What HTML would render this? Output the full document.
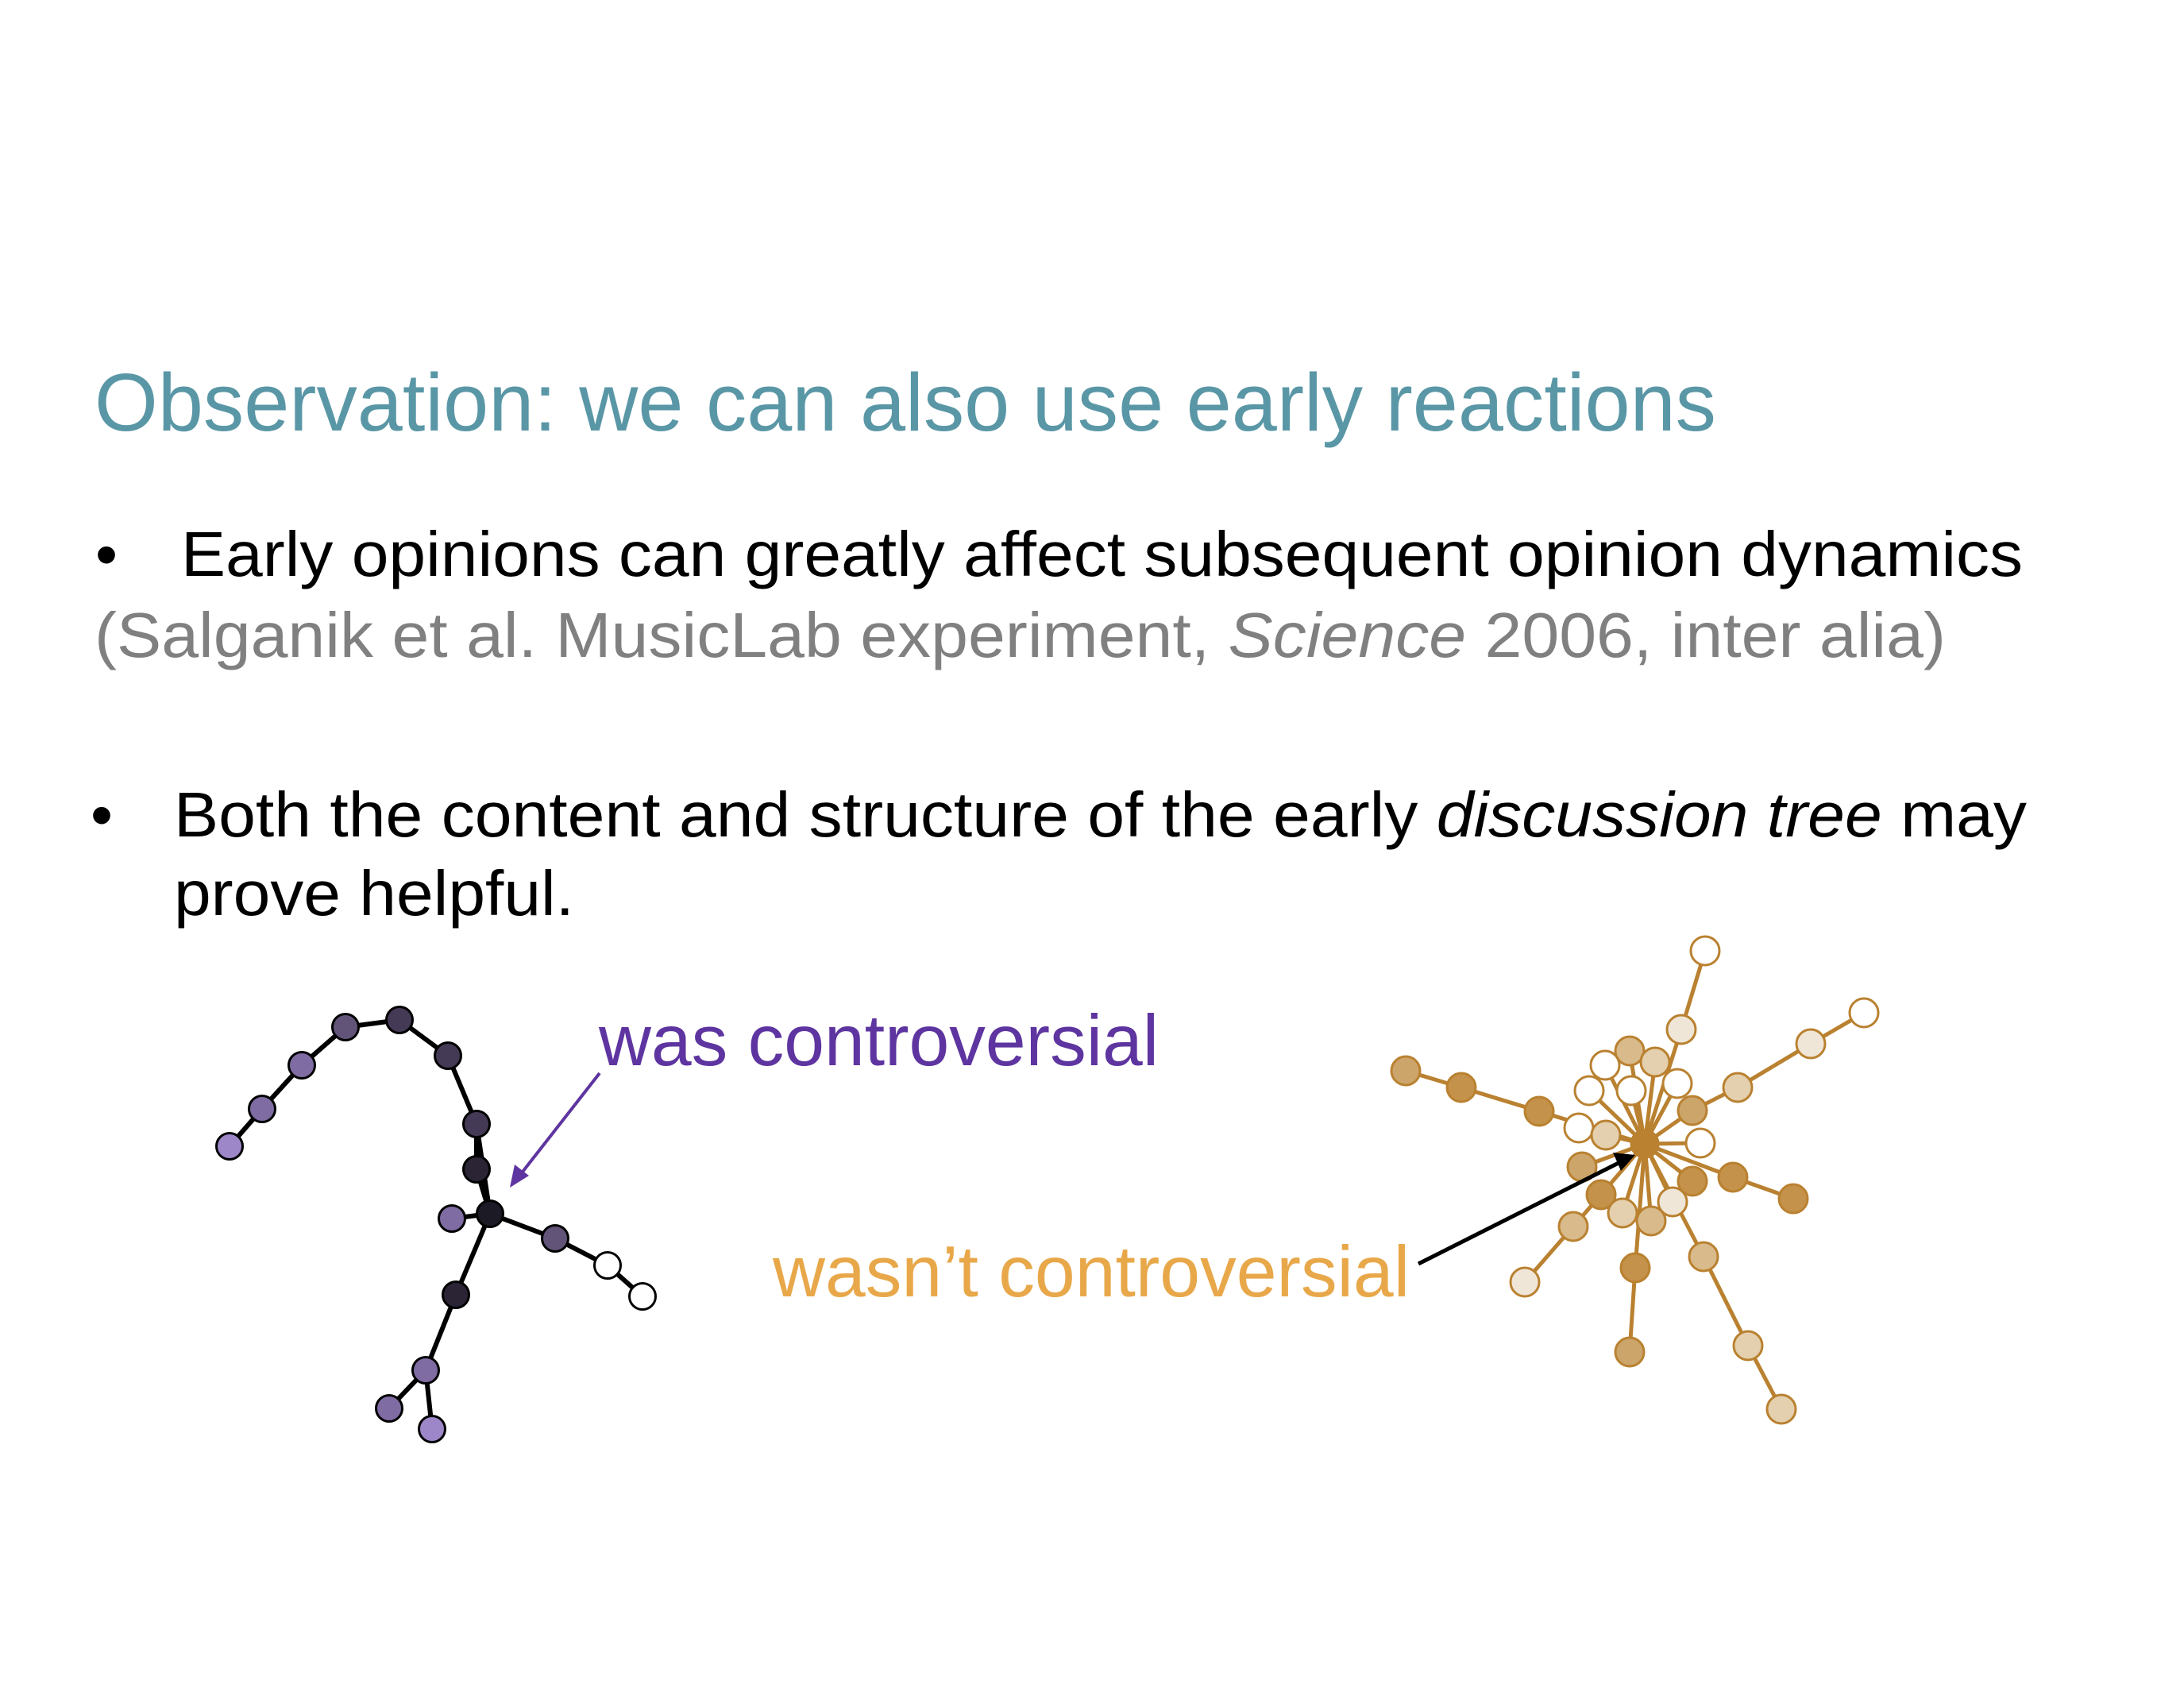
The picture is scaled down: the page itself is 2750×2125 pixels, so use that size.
<!DOCTYPE html>
<html><head><meta charset="utf-8"><style>html,body{margin:0;padding:0;background:#fff}svg{display:block}</style></head>
<body>
<svg width="2750" height="2125" viewBox="0 0 2750 2125" xmlns="http://www.w3.org/2000/svg" font-family="Liberation Sans, Arial, sans-serif">
<rect width="2750" height="2125" fill="#fff"/>
<text x="119" y="542" font-size="103" fill="#5a97a6" textLength="2042" lengthAdjust="spacingAndGlyphs">Observation: we can also use early reactions</text>
<text x="120" y="725" font-size="80" fill="#000">•</text>
<text x="228" y="725" font-size="80" fill="#000" textLength="2319" lengthAdjust="spacingAndGlyphs">Early opinions can greatly affect subsequent opinion dynamics</text>
<text x="119" y="827" font-size="80" fill="#808080" textLength="2331" lengthAdjust="spacingAndGlyphs">(Salganik et al. MusicLab experiment, <tspan font-style="italic">Science</tspan> 2006, inter alia)</text>
<text x="114" y="1053" font-size="80" fill="#000">•</text>
<text x="219" y="1053" font-size="80" fill="#000" textLength="2333" lengthAdjust="spacingAndGlyphs">Both the content and structure of the early <tspan font-style="italic">discussion tree</tspan> may</text>
<text x="219" y="1152" font-size="80" fill="#000" textLength="504" lengthAdjust="spacingAndGlyphs">prove helpful.</text>

<text x="754" y="1341" font-size="91" fill="#5e35a0" textLength="705" lengthAdjust="spacingAndGlyphs">was controversial</text>
<text x="973" y="1632" font-size="91" fill="#e8a84a" textLength="802" lengthAdjust="spacingAndGlyphs">wasn’t controversial</text>

<!-- left tree -->
<g stroke="#000" stroke-width="6" fill="none" stroke-linecap="round">
<polyline points="289,1443 330,1396 380,1341 435,1293 503,1284 564,1329 600,1415 600,1472 617,1528"/>
<polyline points="600,1415 617,1528"/>
<polyline points="569,1534 617,1528 699,1559 765,1593 809,1632"/>
<polyline points="617,1528 574,1630 536,1725 490,1773"/>
<polyline points="536,1725 544,1799"/>
</g>
<g stroke="#000" stroke-width="3">
<circle cx="289" cy="1443" r="16.5" fill="#9d87c9"/>
<circle cx="330" cy="1396" r="16.5" fill="#7f6ca3"/>
<circle cx="380" cy="1341" r="16.5" fill="#7f6ca3"/>
<circle cx="435" cy="1293" r="16.5" fill="#625478"/>
<circle cx="503" cy="1284" r="16.5" fill="#443a55"/>
<circle cx="564" cy="1329" r="16.5" fill="#443a55"/>
<circle cx="600" cy="1415" r="16.5" fill="#443a55"/>
<circle cx="600" cy="1472" r="16.5" fill="#2a2435"/>
<circle cx="569" cy="1534" r="16.5" fill="#7f6ca3"/>
<circle cx="617" cy="1528" r="16.5" fill="#1c1a24"/>
<circle cx="699" cy="1559" r="16.5" fill="#625478"/>
<circle cx="765" cy="1593" r="16.5" fill="#fff"/>
<circle cx="809" cy="1632" r="16.5" fill="#fff"/>
<circle cx="574" cy="1630" r="16.5" fill="#2a2435"/>
<circle cx="536" cy="1725" r="16.5" fill="#7f6ca3"/>
<circle cx="490" cy="1773" r="16.5" fill="#7f6ca3"/>
<circle cx="544" cy="1799" r="16.5" fill="#9d87c9"/>
</g>
<line x1="755" y1="1351" x2="655" y2="1479" stroke="#5e35a0" stroke-width="4"/>
<polygon points="642,1495 648,1466 666,1480" fill="#5e35a0"/>

<!-- right tree -->
<g stroke="#b98130" stroke-width="5" fill="none">
<polyline points="2071,1440 2117,1296 2147,1197"/>
<polyline points="2071,1440 2131,1398 2188,1369 2280,1314 2347,1275"/>
<polyline points="2071,1440 1938,1399 1840,1369 1770,1348"/>
<polyline points="2071,1440 2016,1504 1981,1544 1920,1614"/>
<polyline points="2071,1440 2059,1596 2052,1702"/>
<polyline points="2071,1440 2145,1582 2201,1694 2243,1774"/>
<polyline points="2071,1440 2182,1482 2258,1509"/>
<line x1="2071" y1="1440" x2="1988" y2="1420"/>
<line x1="2071" y1="1440" x2="2022" y2="1429"/>
<line x1="2071" y1="1440" x2="2001" y2="1373"/>
<line x1="2071" y1="1440" x2="2021" y2="1341"/>
<line x1="2071" y1="1440" x2="2052" y2="1323"/>
<line x1="2071" y1="1440" x2="2084" y2="1337"/>
<line x1="2071" y1="1440" x2="2054" y2="1373"/>
<line x1="2071" y1="1440" x2="2112" y2="1364"/>
<line x1="2071" y1="1440" x2="2141" y2="1439"/>
<line x1="2071" y1="1440" x2="1992" y2="1469"/>
<line x1="2071" y1="1440" x2="2131" y2="1487"/>
<line x1="2071" y1="1440" x2="2106" y2="1513"/>
<line x1="2071" y1="1440" x2="2043" y2="1527"/>
<line x1="2071" y1="1440" x2="2079" y2="1537"/>
</g>
<g stroke="#b98130" stroke-width="3">
<circle cx="2147" cy="1197" r="18" fill="#fff"/>
<circle cx="2117" cy="1296" r="18" fill="#f0e6d8"/>
<circle cx="2347" cy="1275" r="18" fill="#fff"/>
<circle cx="2280" cy="1314" r="18" fill="#f0e6d8"/>
<circle cx="2188" cy="1369" r="18" fill="#e4d0ae"/>
<circle cx="1770" cy="1348" r="18" fill="#cca56b"/>
<circle cx="1840" cy="1369" r="18" fill="#c4924a"/>
<circle cx="1938" cy="1399" r="18" fill="#c4924a"/>
<circle cx="2052" cy="1323" r="18" fill="#d9ba8a"/>
<circle cx="2021" cy="1341" r="18" fill="#fff"/>
<circle cx="2084" cy="1337" r="18" fill="#e4d0ae"/>
<circle cx="2001" cy="1373" r="18" fill="#fff"/>
<circle cx="2054" cy="1373" r="18" fill="#fff"/>
<circle cx="2112" cy="1364" r="18" fill="#fff"/>
<circle cx="2131" cy="1398" r="18" fill="#cca56b"/>
<circle cx="1988" cy="1420" r="18" fill="#fff"/>
<circle cx="2022" cy="1429" r="18" fill="#e4d0ae"/>
<circle cx="2141" cy="1439" r="18" fill="#fff"/>
<circle cx="1992" cy="1469" r="18" fill="#cca56b"/>
<circle cx="2182" cy="1482" r="18" fill="#c4924a"/>
<circle cx="2258" cy="1509" r="18" fill="#c4924a"/>
<circle cx="2131" cy="1487" r="18" fill="#c4924a"/>
<circle cx="2016" cy="1504" r="18" fill="#c4924a"/>
<circle cx="2043" cy="1527" r="18" fill="#e4d0ae"/>
<circle cx="2079" cy="1537" r="18" fill="#d9ba8a"/>
<circle cx="2106" cy="1513" r="18" fill="#f0e6d8"/>
<circle cx="1981" cy="1544" r="18" fill="#d9ba8a"/>
<circle cx="1920" cy="1614" r="18" fill="#f0e6d8"/>
<circle cx="2059" cy="1596" r="18" fill="#c4924a"/>
<circle cx="2052" cy="1702" r="18" fill="#cca56b"/>
<circle cx="2145" cy="1582" r="18" fill="#d9ba8a"/>
<circle cx="2201" cy="1694" r="18" fill="#e4d0ae"/>
<circle cx="2243" cy="1774" r="18" fill="#e4d0ae"/>
<circle cx="2071" cy="1440" r="17" fill="#b98130"/>
</g>
<line x1="1786" y1="1591" x2="2040" y2="1463" stroke="#000" stroke-width="5"/>
<polygon points="2059,1454 2031,1451 2041,1474" fill="#000"/>
</svg>
</body></html>
